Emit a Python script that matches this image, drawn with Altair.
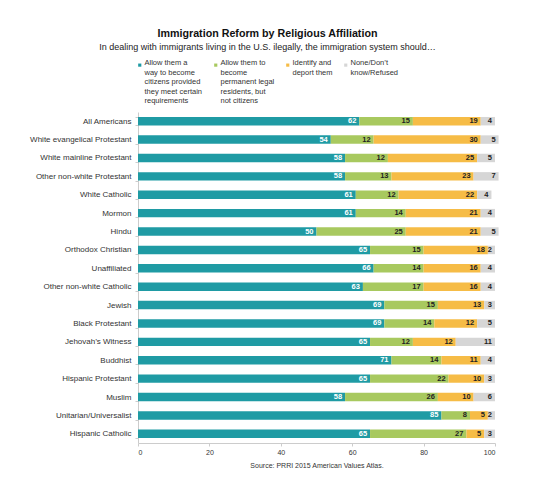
import altair as alt
import pandas as pd

groups = [
    "All Americans", "White evangelical Protestant", "White mainline Protestant",
    "Other non-white Protestant", "White Catholic", "Mormon", "Hindu",
    "Orthodox Christian", "Unaffiliated", "Other non-white Catholic", "Jewish",
    "Black Protestant", "Jehovah\u2019s Witness", "Buddhist", "Hispanic Protestant",
    "Muslim", "Unitarian/Universalist", "Hispanic Catholic",
]
citizen = [62, 54, 58, 58, 61, 61, 50, 65, 66, 63, 69, 69, 65, 71, 65, 58, 85, 65]
permanent = [15, 12, 12, 13, 12, 14, 25, 15, 14, 17, 15, 14, 12, 14, 22, 26, 8, 27]
deport = [19, 30, 25, 23, 22, 21, 21, 18, 16, 16, 13, 12, 12, 11, 10, 10, 5, 5]
dontknow = [4, 5, 5, 7, 4, 4, 5, 2, 4, 4, 3, 5, 11, 4, 3, 6, 2, 3]

legend_lines = [
    ["Allow them a", "way to become", "citizens provided", "they meet certain", "requirements"],
    ["Allow them to", "become", "permanent legal", "residents, but", "not citizens"],
    ["Identify and", "deport them"],
    ["None/Don\u2019t", "know/Refused"],
]
responses = [" ".join(l) for l in legend_lines]
colors = ["#1f9ba4", "#a8c95f", "#f6bc46", "#d6d6d6"]

rows = []
series = [citizen, permanent, deport, dontknow]
for i, g in enumerate(groups):
    for j, r in enumerate(responses):
        rows.append({"group": g, "response": r, "value": series[j][i], "order": j})
df = pd.DataFrame(rows)

# pad every legend label to the same number of lines so entries top-align
max_lines = max(len(l) for l in legend_lines)
label_expr = " : ".join(
    f"datum.label == '{responses[k]}' ? [{', '.join(repr(s) for s in legend_lines[k] + [' '] * (max_lines - len(legend_lines[k])))}]"
    for k in range(len(responses))
) + " : datum.label"

FONT = "Liberation Sans"

base = alt.Chart(df).transform_stack(
    stack="value", groupby=["group"], as_=["x0", "x1"],
    sort=[alt.SortField("order", order="ascending")],
)

y_enc = alt.Y(
    "group:N", sort=groups, title=None,
    scale=alt.Scale(paddingInner=0.54),
    axis=alt.Axis(labelFontSize=8, labelColor="#333", labelPadding=4,
                  domainColor="#cccccc", tickColor="#cccccc", tickSize=3,
                  tickBand="extent", labelFont=FONT),
)

bars = base.mark_bar().encode(
    y=y_enc,
    x=alt.X("x0:Q", scale=alt.Scale(domain=[0, 100], nice=False),
            axis=alt.Axis(values=[0, 20, 40, 60, 80, 100], labelFontSize=7,
                          labelColor="#333", tickSize=3, labelPadding=2,
                          domainColor="#cccccc", tickColor="#cccccc", grid=False,
                          title="Source: PRRI 2015 American Values Atlas.",
                          titleFontSize=7, titleFontWeight="normal", titleColor="#333",
                          titlePadding=6, labelFont=FONT, titleFont=FONT)),
    x2="x1:Q",
    color=alt.Color(
        "response:N",
        scale=alt.Scale(domain=responses, range=colors),
        legend=alt.Legend(
            title=None, orient="none", legendX=-2, legendY=-51,
            direction="horizontal", columns=4, symbolType="square",
            symbolSize=10, labelFontSize=7.5, labelColor="#333",
            labelExpr=label_expr, labelLimit=300, columnPadding=9,
            labelOffset=1, labelBaseline="alphabetic", labelFont=FONT,
        ),
    ),
)

text = base.mark_text(align="right", dx=-3, fontSize=7.5, fontWeight="bold", font=FONT).encode(
    y=alt.Y("group:N", sort=groups),
    x="x1:Q",
    text="value:Q",
    color=alt.condition(alt.datum.order == 0, alt.value("white"), alt.value("#222222")),
)

chart = alt.layer(bars, text).properties(
    width=357, height=331,
    autosize=alt.AutoSizeParams(type="none"),
    padding={"left": 130, "top": 104, "right": 47, "bottom": 48},
    title=alt.TitleParams(
        "Immigration Reform by Religious Affiliation",
        subtitle="In dealing with immigrants living in the U.S. ilegally, the immigration system should\u2026",
        fontSize=10.7, subtitleFontSize=9, font=FONT, subtitleFont=FONT,
        color="#111", subtitleColor="#222", anchor="middle", dx=-49, offset=8,
        subtitlePadding=3,
    ),
).configure_view(stroke=None)

chart.save("out.html", embed_options={"renderer": "svg", "actions": False})
